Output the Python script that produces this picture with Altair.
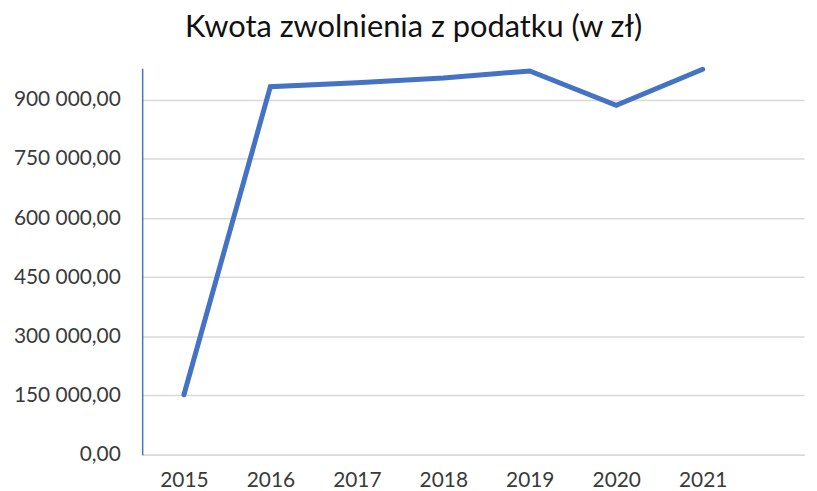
import altair as alt
import pandas as pd

years = [2015, 2016, 2017, 2018, 2019, 2020, 2021]
values = [152000, 933000, 943000, 955000, 973000, 886000, 977000]
y_ticks = [0, 150000, 300000, 450000, 600000, 750000, 900000]

df = pd.DataFrame({"rok": years, "kwota": values})

label_expr = "datum.value == 0 ? '0,00' : format(datum.value / 1000, 'd') + ' 000,00'"

chart = (
    alt.Chart(df)
    .mark_line(color="#4472C4", strokeWidth=5, strokeCap="round")
    .encode(
        x=alt.X(
            "rok:Q",
            scale=alt.Scale(domain=[2014.517, 2022.172], nice=False, zero=False),
            axis=alt.Axis(
                values=years,
                format="d",
                title=None,
                grid=False,
                ticks=False,
                domainColor="#D9D9D9",
                domainWidth=1.5,
                labelPadding=15,
                labelFontSize=21,
                labelFont="Lato",
                labelColor="#3a3a3a",
            ),
        ),
        y=alt.Y(
            "kwota:Q",
            scale=alt.Scale(domain=[0, 980000], nice=False),
            axis=alt.Axis(
                values=y_ticks,
                labelExpr=label_expr,
                title=None,
                ticks=False,
                gridColor="#D9D9D9",
                gridWidth=1.5,
                domainColor="#4472C4",
                domainWidth=1.5,
                labelPadding=22,
                labelFontSize=21,
                labelFont="Lato",
                labelColor="#3a3a3a",
            ),
        ),
    )
    .properties(
        width=666,
        height=389,
        padding={"left": 5, "top": 2, "right": 5, "bottom": 2},
        title=alt.TitleParams(
            "Kwota zwolnienia z podatku (w zł)",
            font="Lato",
            fontSize=31,
            fontWeight="normal",
            color="#111111",
            anchor="middle",
            frame="bounds",
            offset=16,
            dx=5,
        ),
    )
    .configure_view(stroke=None)
)

chart.save("out.html", embed_options={"renderer": "svg", "actions": False})
